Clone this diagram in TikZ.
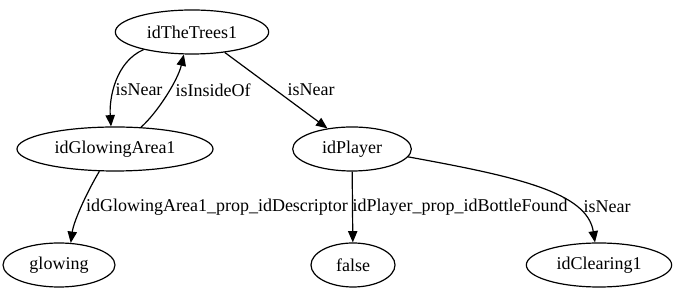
\documentclass[tikz,border=0pt]{standalone}
\usepackage{fontspec}
\setmainfont{Liberation Serif}
\usetikzlibrary{arrows.meta,shapes.geometric}

\begin{document}
\begin{tikzpicture}[x=0.75pt, y=0.75pt,
  every node/.style={font=\fontsize{13.5}{16}\selectfont},
  obj/.style={draw, ellipse, line width=0.9pt, minimum height=33pt, inner sep=0pt},
  rel/.style={line width=0.9pt, -{Triangle[length=8.5pt, width=7pt]}},
  lbl/.style={inner sep=0pt}]
\useasboundingbox (0,0) rectangle (677,295);
% objects
\node[obj, minimum width=115pt] (trees) at (192,263) {idTheTrees1};
\node[obj, minimum width=147pt] (glowarea) at (115,146) {idGlowingArea1};
\node[obj, minimum width=89pt] (player) at (352,146) {idPlayer};
\node[obj, minimum width=84pt] (glowing) at (59,30) {glowing};
\node[obj, minimum width=63pt] (false) at (353,30) {false};
\node[obj, minimum width=109pt] (clearing) at (599,30) {idClearing1};
% relations
\draw[rel] (trees.200) .. controls +(-28,-12) and +(-2,28) .. (glowarea.100);
\draw[rel] (glowarea.40) .. controls +(16,14) and +(-6,-26) .. (trees.250);
\draw[rel] (trees.328) -- (player.140);
\draw[rel] (glowarea.235) .. controls +(-12,-20) and +(3,22) .. (glowing.62);
\draw[rel] (player) -- (false);
\draw[rel] (player.352) .. controls +(110,-20) and +(-8,50) .. (clearing.100);
% labels
\node[lbl] (nearA) at (139,205) {isNear};
\node[lbl] (inside) at (213,205) {isInsideOf};
\node[lbl] (nearB) at (311,205) {isNear};
\node[lbl] (descr) at (217,88) {idGlowingArea1\_prop\_idDescriptor};
\node[lbl] (bottle) at (460,88) {idPlayer\_prop\_idBottleFound};
\node[lbl] (nearC) at (607,88) {isNear};
\end{tikzpicture}
\end{document}
